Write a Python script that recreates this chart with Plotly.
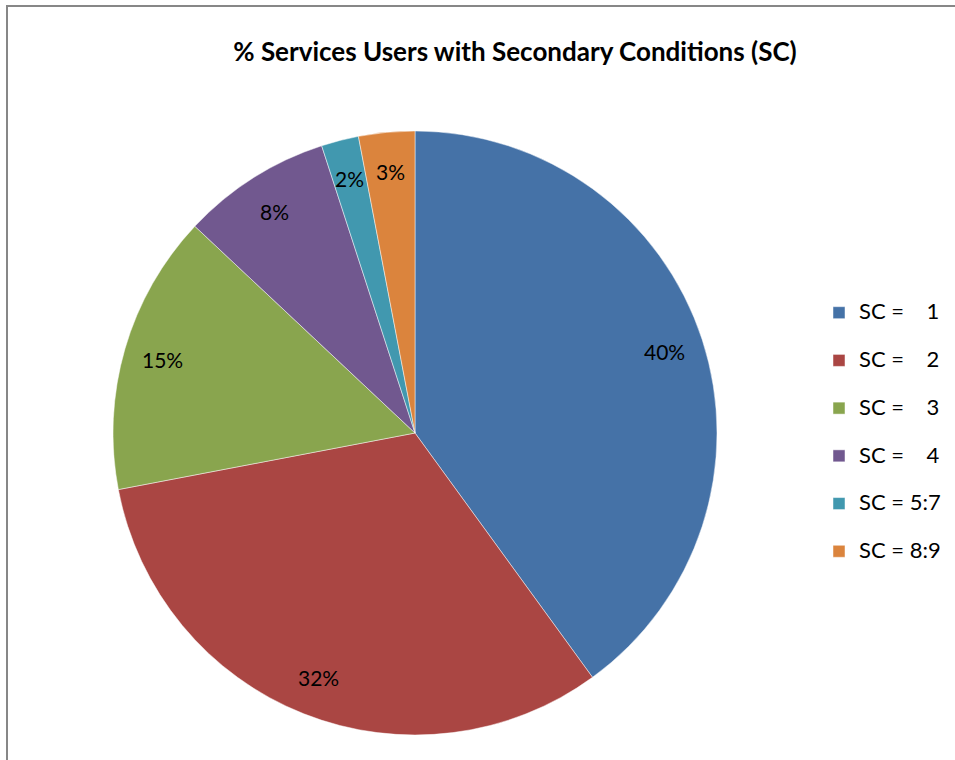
import math
import plotly.graph_objects as go

labels = ["SC =\u00a0\u00a0\u00a0\u00a01", "SC =\u00a0\u00a0\u00a0\u00a02", "SC =\u00a0\u00a0\u00a0\u00a03",
          "SC =\u00a0\u00a0\u00a0\u00a04", "SC = 5:7", "SC = 8:9"]
values = [40, 32, 15, 8, 2, 3]
colors = ["#4572A7", "#AA4643", "#89A54E", "#71588F", "#4198AF", "#DB843D"]

W, H = 955, 760
FONT = "Lato"

# pie geometry in pixels
cx, cy, R = 415, 433, 302
dom_x = [(cx - R) / W, (cx + R) / W]
dom_y = [1 - (cy + R) / H, 1 - (cy - R) / H]

# legend rows are taller than the text: a spacer line under each label
legend_labels = [f"<span style='font-size:22px'>{l}</span><br>\u00a0" for l in labels]

fig = go.Figure()

fig.add_trace(go.Pie(
    labels=legend_labels,
    values=values,
    sort=False,
    direction="clockwise",
    rotation=0,
    marker=dict(colors=colors, line=dict(color="rgba(255,255,255,0.6)", width=0.8)),
    textinfo="none",
    hovertext=labels,
    hoverinfo="text+percent",
    domain=dict(x=dom_x, y=dom_y),
))

# percentage labels placed like Excel's, near the rim of each slice
total = sum(values)
cum = 0
annotations = []
for v in values:
    mid = (cum + v / 2) / total * 2 * math.pi
    cum += v
    k = 0.87
    annotations.append(dict(
        x=(cx + k * R * math.sin(mid)) / W,
        y=1 - (cy - k * R * math.cos(mid)) / H,
        xref="paper", yref="paper",
        text=f"{round(v / total * 100)}%",
        showarrow=False,
        font=dict(family=FONT, size=21, color="#000"),
        xanchor="center", yanchor="middle",
    ))

fig.update_layout(
    width=W, height=H,
    margin=dict(l=0, r=0, t=0, b=0),
    paper_bgcolor="white",
    plot_bgcolor="white",
    title=dict(
        text="<b>% Services Users with Secondary Conditions (SC)</b>",
        x=515 / W, y=1 - 52 / H, xanchor="center", yanchor="middle",
        font=dict(family=FONT, size=26, color="#000"),
    ),
    legend=dict(
        x=819 / W, y=1 - 295 / H, xanchor="left", yanchor="top",
        font=dict(family=FONT, size=17.2, color="#000"),
        valign="top",
        bgcolor="rgba(0,0,0,0)",
    ),
    annotations=annotations,
    shapes=[dict(
        type="rect", xref="paper", yref="paper",
        x0=7 / W, x1=1.02, y0=-0.02, y1=1 - 6 / H,
        line=dict(color="#878787", width=2),
    )],
)

fig.write_html("out.html", config={"displayModeBar": False},
               post_script="document.body.style.margin='0';")
